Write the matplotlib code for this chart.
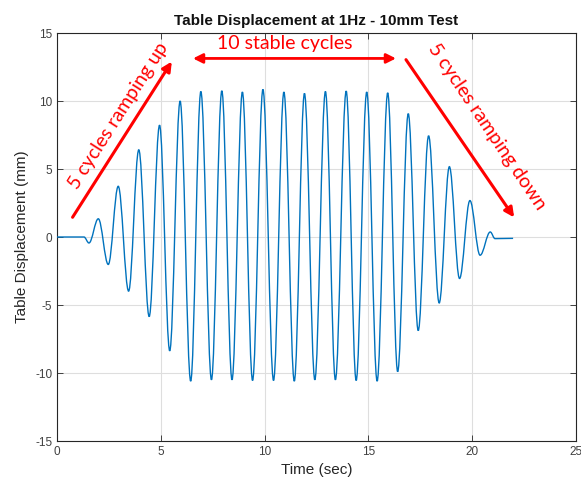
import matplotlib
matplotlib.use("Agg")
import matplotlib.pyplot as plt
from matplotlib.path import Path
from matplotlib.patches import PathPatch

plt.rcParams["axes.unicode_minus"] = False

ext_time = [0.00, 1.30, 1.54, 1.99, 2.47, 2.95, 3.45, 3.94, 4.44, 4.94, 5.43,
            5.93, 6.44, 6.93, 7.44, 7.94, 8.43, 8.93, 9.42, 9.92, 10.43,
            10.93, 11.43, 11.92, 12.42, 12.93, 13.41, 13.93, 14.41, 14.92, 15.42,
            15.93, 16.41, 16.92, 17.40, 17.90, 18.41, 18.90, 19.39, 19.89, 20.38,
            20.87, 21.10, 21.97]
ext_disp = [0.00, 0.00, -0.44, 1.34, -2.02, 3.73, -3.98, 6.41, -5.85, 8.22, -8.37,
            10.00, -10.60, 10.70, -10.50, 10.75, -10.50, 10.66, -10.55, 10.85, -10.55,
            10.66, -10.60, 10.56, -10.50, 10.70, -10.50, 10.73, -10.55, 10.66, -10.60,
            10.60, -9.90, 9.07, -6.88, 7.44, -4.85, 5.17, -3.05, 2.68, -1.34,
            0.37, -0.12, -0.10]

x_ticks = [0, 5, 10, 15, 20, 25]
y_ticks = [-15, -10, -5, 0, 5, 10, 15]

title = "Table Displacement at 1Hz - 10mm Test"
xlabel = "Time (sec)"
ylabel = "Table Displacement (mm)"

ramp_up_label = "5 cycles ramping up"
stable_label = "10 stable cycles"
ramp_down_label = "5 cycles ramping down"

# ---- figure ----
fig = plt.figure(figsize=(5.81, 4.86), dpi=100)
ax = fig.add_axes([57 / 581, 45 / 486, (576 - 57) / 581, (441 - 33) / 486])

# smooth half-sine segments between successive extrema (horizontal tangents)
K = 0.3634
verts = [(ext_time[0], ext_disp[0])]
codes = [Path.MOVETO]
for i in range(len(ext_time) - 1):
    t0, y0 = ext_time[i], ext_disp[i]
    t1, y1 = ext_time[i + 1], ext_disp[i + 1]
    dt = t1 - t0
    verts += [(t0 + K * dt, y0), (t1 - K * dt, y1), (t1, y1)]
    codes += [Path.CURVE4] * 3
sig = PathPatch(Path(verts, codes), fill=False, edgecolor="#0072BD",
                linewidth=1.0, transform=ax.transData, zorder=3)
ax.add_patch(sig)

ax.set_xlim(0, 25)
ax.set_ylim(-15, 15)
ax.set_xticks(x_ticks)
ax.set_yticks(y_ticks)

font = "Liberation Sans"
axc = "#262626"
for sp in ax.spines.values():
    sp.set_color(axc)
    sp.set_linewidth(0.8)
ax.grid(True, color="#dedede", linewidth=0.8)
ax.set_axisbelow(True)
ax.tick_params(direction="in", length=4, width=0.6, colors=axc,
               top=True, right=True, labelsize=8.5, labelcolor="#404040")
for lab in ax.get_xticklabels() + ax.get_yticklabels():
    lab.set_fontfamily(font)

ax.set_title(title, fontsize=11, fontweight="bold", family=font, color="#111111", pad=6)
ax.set_xlabel(xlabel, fontsize=11, family=font, color=axc, labelpad=4)
ax.set_ylabel(ylabel, fontsize=11, family=font, color=axc, labelpad=4)

# ---- annotations ----
red = "#FF0000"
afont = "Lato"
afs = 14
arrow_kw = dict(arrowstyle="-|>", color=red, lw=2.2, mutation_scale=14,
                shrinkA=0, shrinkB=0)
ax.annotate("", xy=(5.53, 12.9), xytext=(0.75, 1.45), arrowprops=arrow_kw,
            annotation_clip=False, zorder=5)
ax.annotate("", xy=(22.02, 1.44), xytext=(16.81, 13.04), arrowprops=arrow_kw,
            annotation_clip=False, zorder=5)
ax.annotate("", xy=(6.55, 13.13), xytext=(16.33, 13.13),
            arrowprops=dict(arrowstyle="<|-|>", color=red, lw=2.0, mutation_scale=14,
                            shrinkA=0, shrinkB=0), zorder=5)

ax.text(2.95, 8.9, ramp_up_label, rotation=57.5, rotation_mode="anchor",
        ha="center", va="center", color=red, fontsize=afs, family=afont, zorder=5)
ax.text(10.96, 14.2, stable_label, ha="center", va="center", color=red,
        fontsize=afs, family=afont, zorder=5)
ax.text(20.7, 8.1, ramp_down_label, rotation=-56, rotation_mode="anchor",
        ha="center", va="center", color=red, fontsize=afs, family=afont, zorder=5)

fig.savefig("out.png", dpi=100)
